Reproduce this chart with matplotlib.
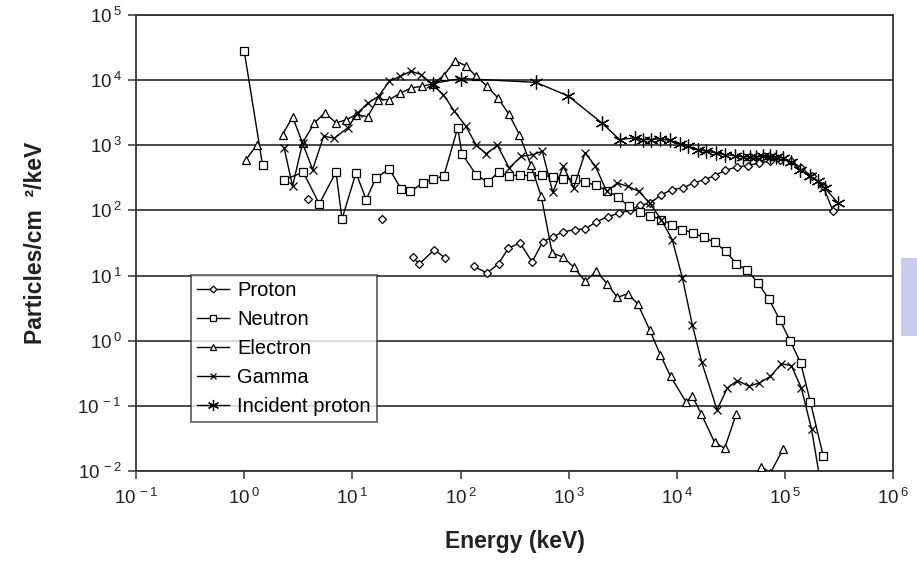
import numpy as np
import matplotlib
matplotlib.use("Agg")
import matplotlib.pyplot as plt
from matplotlib.patches import Rectangle

plt.rcParams['font.family'] = ['Liberation Sans', 'DejaVu Sans']
plt.rcParams['mathtext.default'] = 'regular'

nan = np.nan

# energies in keV, flux in particles/cm2/keV (nan = gap in the curve)
proton_e = [3.9, nan, 18.6, nan, 36.1, 41.6, 57.3, 71.9, nan,
            132, 176, 224, 277, 355, 458, 575, 711, 881, 1130, 1419, 1791,
            2280, 2904, 3673, 4508, 5662, 7161, 9036, 11350, 14260, 17990,
            22280, 27990, 35810, 45290, 57280, 71940, 88920, 114000, 141000,
            175000, 224000, 277000]
proton_v = [150, nan, 74, nan, 19.1, 15.1, 25.0, 18.6, nan,
            13.8, 11.0, 15.2, 26.5, 31.6, 16.2, 33.1, 39.2, 46.8, 50.7, 52.0, 66.5,
            80.4, 90.2, 101, 120, 130, 175, 209, 222, 264, 297,
            343, 413, 466, 488, 536, 569, 603, 569, 450,
            334, 234, 97]

neutron_e = [1.0, 1.48, nan,
             2.34, 3.52, 4.94, 7.05, 8.02, 10.8, 13.4, 16.5, 21.9, 28.2, 34.4,
             44.7, 56.0, 69.8, 94.0, 103, 139, 178, 225, 279, 357, 449, 562,
             711, 891, 1130, 1419, 1791, 2239, 2838, 3565, 4508, 5662, 7161,
             9036, 11190, 14030, 17620, 22280, 28180, 35320, 44670, 55980,
             70310, 88920, 111700, 139000, 171000, 224000]
neutron_v = [28000, 490, nan,
             297, 385, 126, 389, 74, 377, 147, 316, 434, 214, 196,
             263, 308, 334, 1849, 738, 355, 270, 390, 334, 355, 334, 351,
             327, 304, 304, 270, 243, 200, 162, 116, 93.5, 83.2, 72.3,
             60.5, 50.7, 45.1, 38.6, 32.4, 23.6, 15.2, 12.0, 7.69,
             4.42, 2.10, 0.98, 0.454, 0.114, 0.0173]

electron_e = [1.04, 1.30, nan,
              2.26, 2.80, 3.46, 4.45, 5.57, 7.05, 8.71, 10.8, 13.8, 17.1, 21.9,
              27.7, 34.8, 44.1, 55.2, 69.8, 88.9, 112, 139, 176, 221, 279, 350,
              445, 556, 702, 881, 1114, 1419, 1791, 2265, 2805, 3516, 4345,
              5572, 7000, 8730, 12190, 13800, 16790, 22280, 27540, 35320, nan,
              60260, 72950, 95500]
electron_v = [603, 1000, nan,
              1459, 2729, 1086, 2208, 3141, 2208, 2455, 2951, 2754, 5012, 5012,
              6310, 7586, 8054, 8770, 11750, 19950, 16600, 11480, 8054, 5346, 3020, 1459,
              501, 165, 22.2, 19.3, 13.4, 8.15, 11.6, 7.52, 4.62, 5.27, 3.66,
              1.48, 0.61, 0.283, 0.113, 0.143, 0.0748, 0.0274, 0.0224, 0.0757, nan,
              0.0117, 0.0093, 0.0217]

gamma_e = [2.34, 2.80, 3.46, 4.29, 5.42, 6.81, 9.04, 11.2, 13.9, 17.5, 21.9,
           27.7, 34.8, 43.2, 55.2, 69.2, 87.7, 112, 139, 172, 219, 281, 363,
           465, 569, 711, 891, 1107, 1413, 1762, 2239, 2805, 3516, 4446, 5572,
           7161, 9036, 11190, 13840, 16900, 23440, 29170, 36140, 46240, 57280,
           72950, 92260, 114000, 141000, 175000, 214000]
gamma_v = [912, 234, 1086, 424, 1374, 1288, 1849, 3141, 4467, 5662, 9616,
           11480, 13710, 12190, 8511, 6012, 3327, 1959, 1012, 741, 995, 450, 676,
           719, 809, 190, 476, 222, 769, 476, 196, 263, 234, 196, 130,
           72.3, 35.6, 9.29, 1.76, 0.471, 0.0871, 0.1875, 0.245, 0.200, 0.224,
           0.283, 0.444, 0.413, 0.1875, 0.044, 0.006]

incident_e = [55.2, 100, 495, 984, 2018, 2944, 4055, 4842, 5781, 6902, 8551,
              10570, 12620, 15610, 18670, 23110, 27560, 34110, 40740, 46970,
              54190, 62370, 71940, 82990, 95500, 114000, 136100, 168600,
              201000, 231800, 307600]
incident_v = [8872, 10590, 9247, 5728, 2208, 1225, 1300, 1225, 1225, 1254, 1194,
              1062, 966, 859, 809, 764, 719, 695, 664, 664,
              664, 678, 678, 664, 640, 548, 424, 334,
              280, 222, 130]

x_ticks = [1e-1, 1e0, 1e1, 1e2, 1e3, 1e4, 1e5, 1e6]
y_ticks = [1e-2, 1e-1, 1e0, 1e1, 1e2, 1e3, 1e4, 1e5]

fig = plt.figure(figsize=(9.17, 5.62), dpi=100)
ax = fig.add_axes([0.1483, 0.1619, 0.826, 0.8114])

ax.set_xscale('log')
ax.set_yscale('log')
ax.set_xlim(1e-1, 1e6)
ax.set_ylim(1e-2, 1e5)

# horizontal grid at each decade
for yv in y_ticks:
    ax.axhline(yv, color='#3a3a3a', lw=1.3, zorder=1)

common = dict(color='black', lw=1.0, mfc='white', mec='black', mew=0.9, zorder=3)
ax.plot(proton_e, proton_v, marker='D', ms=4.3, label='Proton', **common)
ax.plot(neutron_e, neutron_v, marker='s', ms=5.3, label='Neutron', **common)
ax.plot(electron_e, electron_v, marker='^', ms=6, label='Electron', **common)
ax.plot(gamma_e, gamma_v, marker='x', ms=5.5, label='Gamma', **common)
ax.plot(incident_e, incident_v, marker=(6, 2, 0), ms=10, label='Incident proton',
        **common)

ax.set_xticks(x_ticks)
ax.set_yticks(y_ticks)
ax.set_xticklabels([r'$\mathdefault{10^{\,%d}}$' % int(np.log10(v)) for v in x_ticks])
ax.set_yticklabels([r'$\mathdefault{10^{\,%d}}$' % int(np.log10(v)) for v in y_ticks])
ax.minorticks_off()
ax.tick_params(axis='both', which='major', direction='out', length=6, width=1.1,
               color='#333333', labelsize=13.5, pad=4, labelcolor='#222222')
ax.tick_params(axis='x', pad=6)

for s in ax.spines.values():
    s.set_color('#333333')
    s.set_linewidth(1.3)

ax.set_xlabel('Energy (keV)', fontsize=16.5, fontweight='bold', color='#222222',
              labelpad=16)
ax.set_ylabel('Particles/cm  \u00b2/keV', fontsize=16.5, fontweight='bold',
              color='#222222', labelpad=22)

leg = ax.legend(loc='lower left', bbox_to_anchor=(0.0726, 0.1075), borderaxespad=0,
                fancybox=False, frameon=True, fontsize=14.5, handlelength=1.6,
                handletextpad=0.4, labelspacing=0.5, borderpad=0.3,
                markerscale=0.8)
leg.get_frame().set_edgecolor('#222222')
leg.get_frame().set_linewidth(1.1)
leg.set_zorder(5)

# stray tab at the right edge of the scan
fig.patches.append(Rectangle((900.5 / 917, 1 - 336 / 562), 16.5 / 917, 78 / 562,
                             transform=fig.transFigure, facecolor='#c9cbef',
                             edgecolor='none'))

fig.savefig('out.png', dpi=100)
